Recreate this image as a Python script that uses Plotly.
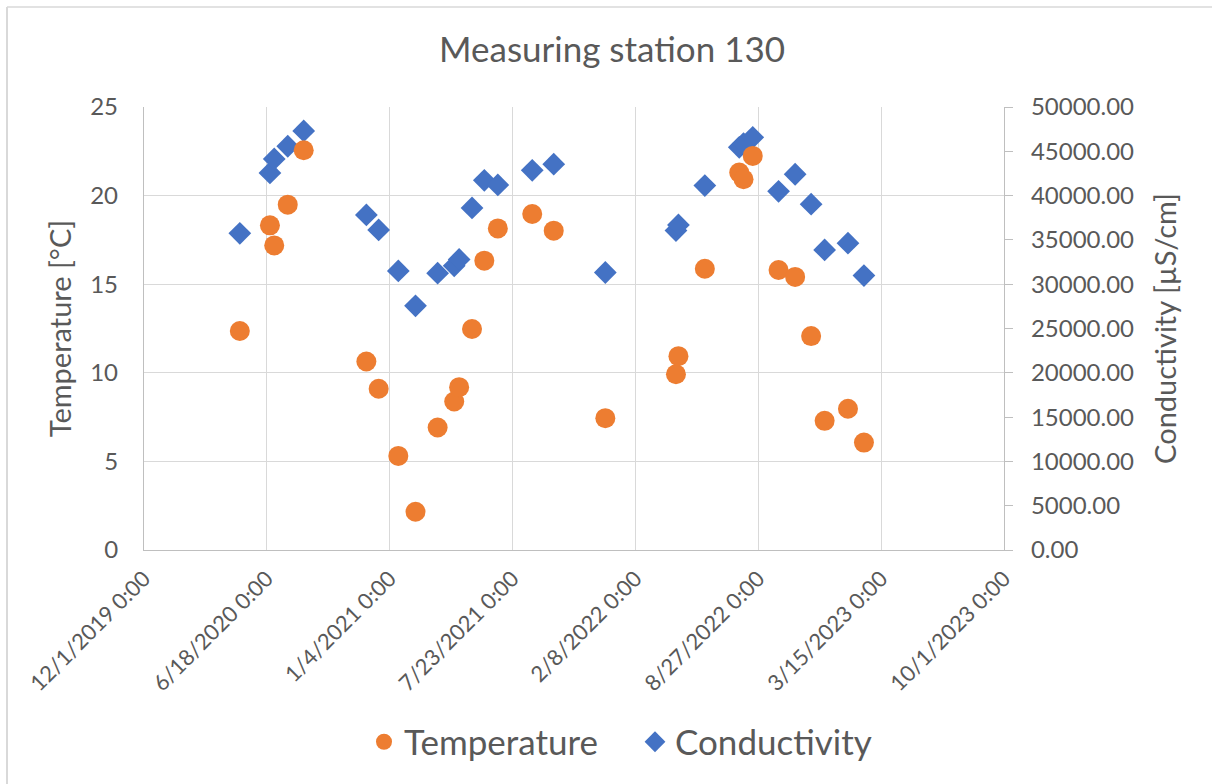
import plotly.graph_objects as go

# Sampling dates (shared by both series)
dates = [
    "2020-05-05", "2020-06-23", "2020-06-30", "2020-07-22", "2020-08-17",
    "2020-11-27", "2020-12-17", "2021-01-18", "2021-02-15", "2021-03-23",
    "2021-04-19", "2021-04-27", "2021-05-18", "2021-06-07", "2021-06-29",
    "2021-08-24", "2021-09-28", "2021-12-21", "2022-04-15", "2022-04-19",
    "2022-06-01", "2022-07-27", "2022-08-03", "2022-08-18", "2022-09-29",
    "2022-10-26", "2022-11-21", "2022-12-13", "2023-01-20", "2023-02-15",
]

temperature = [
    12.36, 18.32, 17.19, 19.49, 22.56,
    10.64, 9.10, 5.31, 2.16, 6.91,
    8.38, 9.19, 12.47, 16.33, 18.15,
    18.96, 18.02, 7.44, 9.92, 10.94,
    15.87, 21.30, 20.92, 22.24, 15.80,
    15.41, 12.07, 7.29, 7.97, 6.06,
]

conductivity = [
    35750, 42560, 44140, 45570, 47300,
    37820, 36130, 31500, 27560, 31240,
    32070, 32790, 38610, 41730, 41200,
    42860, 43540, 31320, 36060, 36690,
    41130, 45450, 45870, 46580, 40490,
    42410, 39030, 33870, 34630, 30980,
]

x_range = ["2019-12-01", "2023-10-01"]
temp_range = [0, 25]
cond_range = [0, 50000]

FONT = "Lato"
GREY = "#595959"
GRID = "#D9D9D9"
AXIS = "#BFBFBF"

fig = go.Figure()
fig.add_trace(go.Scatter(
    x=dates, y=temperature, name="Temperature", mode="markers",
    marker=dict(symbol="circle", size=20, color="#ED7D31"),
    yaxis="y2",
))
fig.add_trace(go.Scatter(
    x=dates, y=conductivity, name="Conductivity", mode="markers",
    marker=dict(symbol="diamond", size=17.5, color="#4472C4"),
    yaxis="y",
))

# paper coordinate helpers for the outer chart border
L, R, T, B = 144, 1004, 107, 550
def px_x(px):
    return (px - L) / (R - L)
def px_y(py):
    return (B - py) / (B - T)

fig.update_layout(
    width=1212, height=784,
    margin=dict(l=L, r=1212 - R, t=T, b=784 - B),
    paper_bgcolor="white", plot_bgcolor="white",
    font=dict(family=FONT, color=GREY, size=24),
    title=dict(text="Measuring station 130", x=0.505, xanchor="center",
               y=1 - 50 / 784, yanchor="middle",
               font=dict(size=35, color=GREY, family=FONT)),
    xaxis=dict(
        type="date", range=x_range, tick0="2019-12-01",
        dtick=200 * 86400000, tickformat="%-m/%-d/%Y 0:00",
        tickangle=-45, showgrid=True, gridcolor=GRID, gridwidth=1.3,
        showline=True, linecolor=AXIS, linewidth=1.3, ticks="",
        ticklabelstandoff=6,
        tickfont=dict(size=22, color=GREY), zeroline=False,
    ),
    yaxis=dict(
        side="right", range=cond_range, dtick=5000, tickformat=".2f",
        showgrid=False, zeroline=False, showline=True, linecolor=AXIS,
        linewidth=1.3, ticks="outside", ticklen=8, tickcolor=AXIS,
        ticklabelstandoff=13,
        tickfont=dict(size=24, color=GREY),
        title=dict(text="Conductivity [µS/cm]", font=dict(size=29, color=GREY), standoff=22),
    ),
    yaxis2=dict(
        side="left", overlaying="y", range=temp_range, dtick=5,
        showgrid=True, gridcolor=GRID, gridwidth=1.3, zeroline=False,
        showline=True, linecolor=AXIS, linewidth=1.3, ticks="",
        ticklabelstandoff=20,
        tickfont=dict(size=24, color=GREY),
        title=dict(text="Temperature [°C]", font=dict(size=29, color=GREY), standoff=10),
    ),
    legend=dict(
        orientation="h", x=0.5 + 61 / 860, xanchor="center", y=px_y(742), yanchor="middle",
        font=dict(size=35, color=GREY), itemwidth=30,
        entrywidth=226, entrywidthmode="pixels",
        traceorder="normal",
    ),
    shapes=[
        dict(type="line", xref="paper", yref="paper",
             x0=px_x(7), x1=px_x(7), y0=px_y(7), y1=px_y(790),
             line=dict(color=GRID, width=2)),
        dict(type="line", xref="paper", yref="paper",
             x0=px_x(7), x1=px_x(1220), y0=px_y(7), y1=px_y(7),
             line=dict(color=GRID, width=1.3)),
    ],
)

fig.write_html("out.html")
